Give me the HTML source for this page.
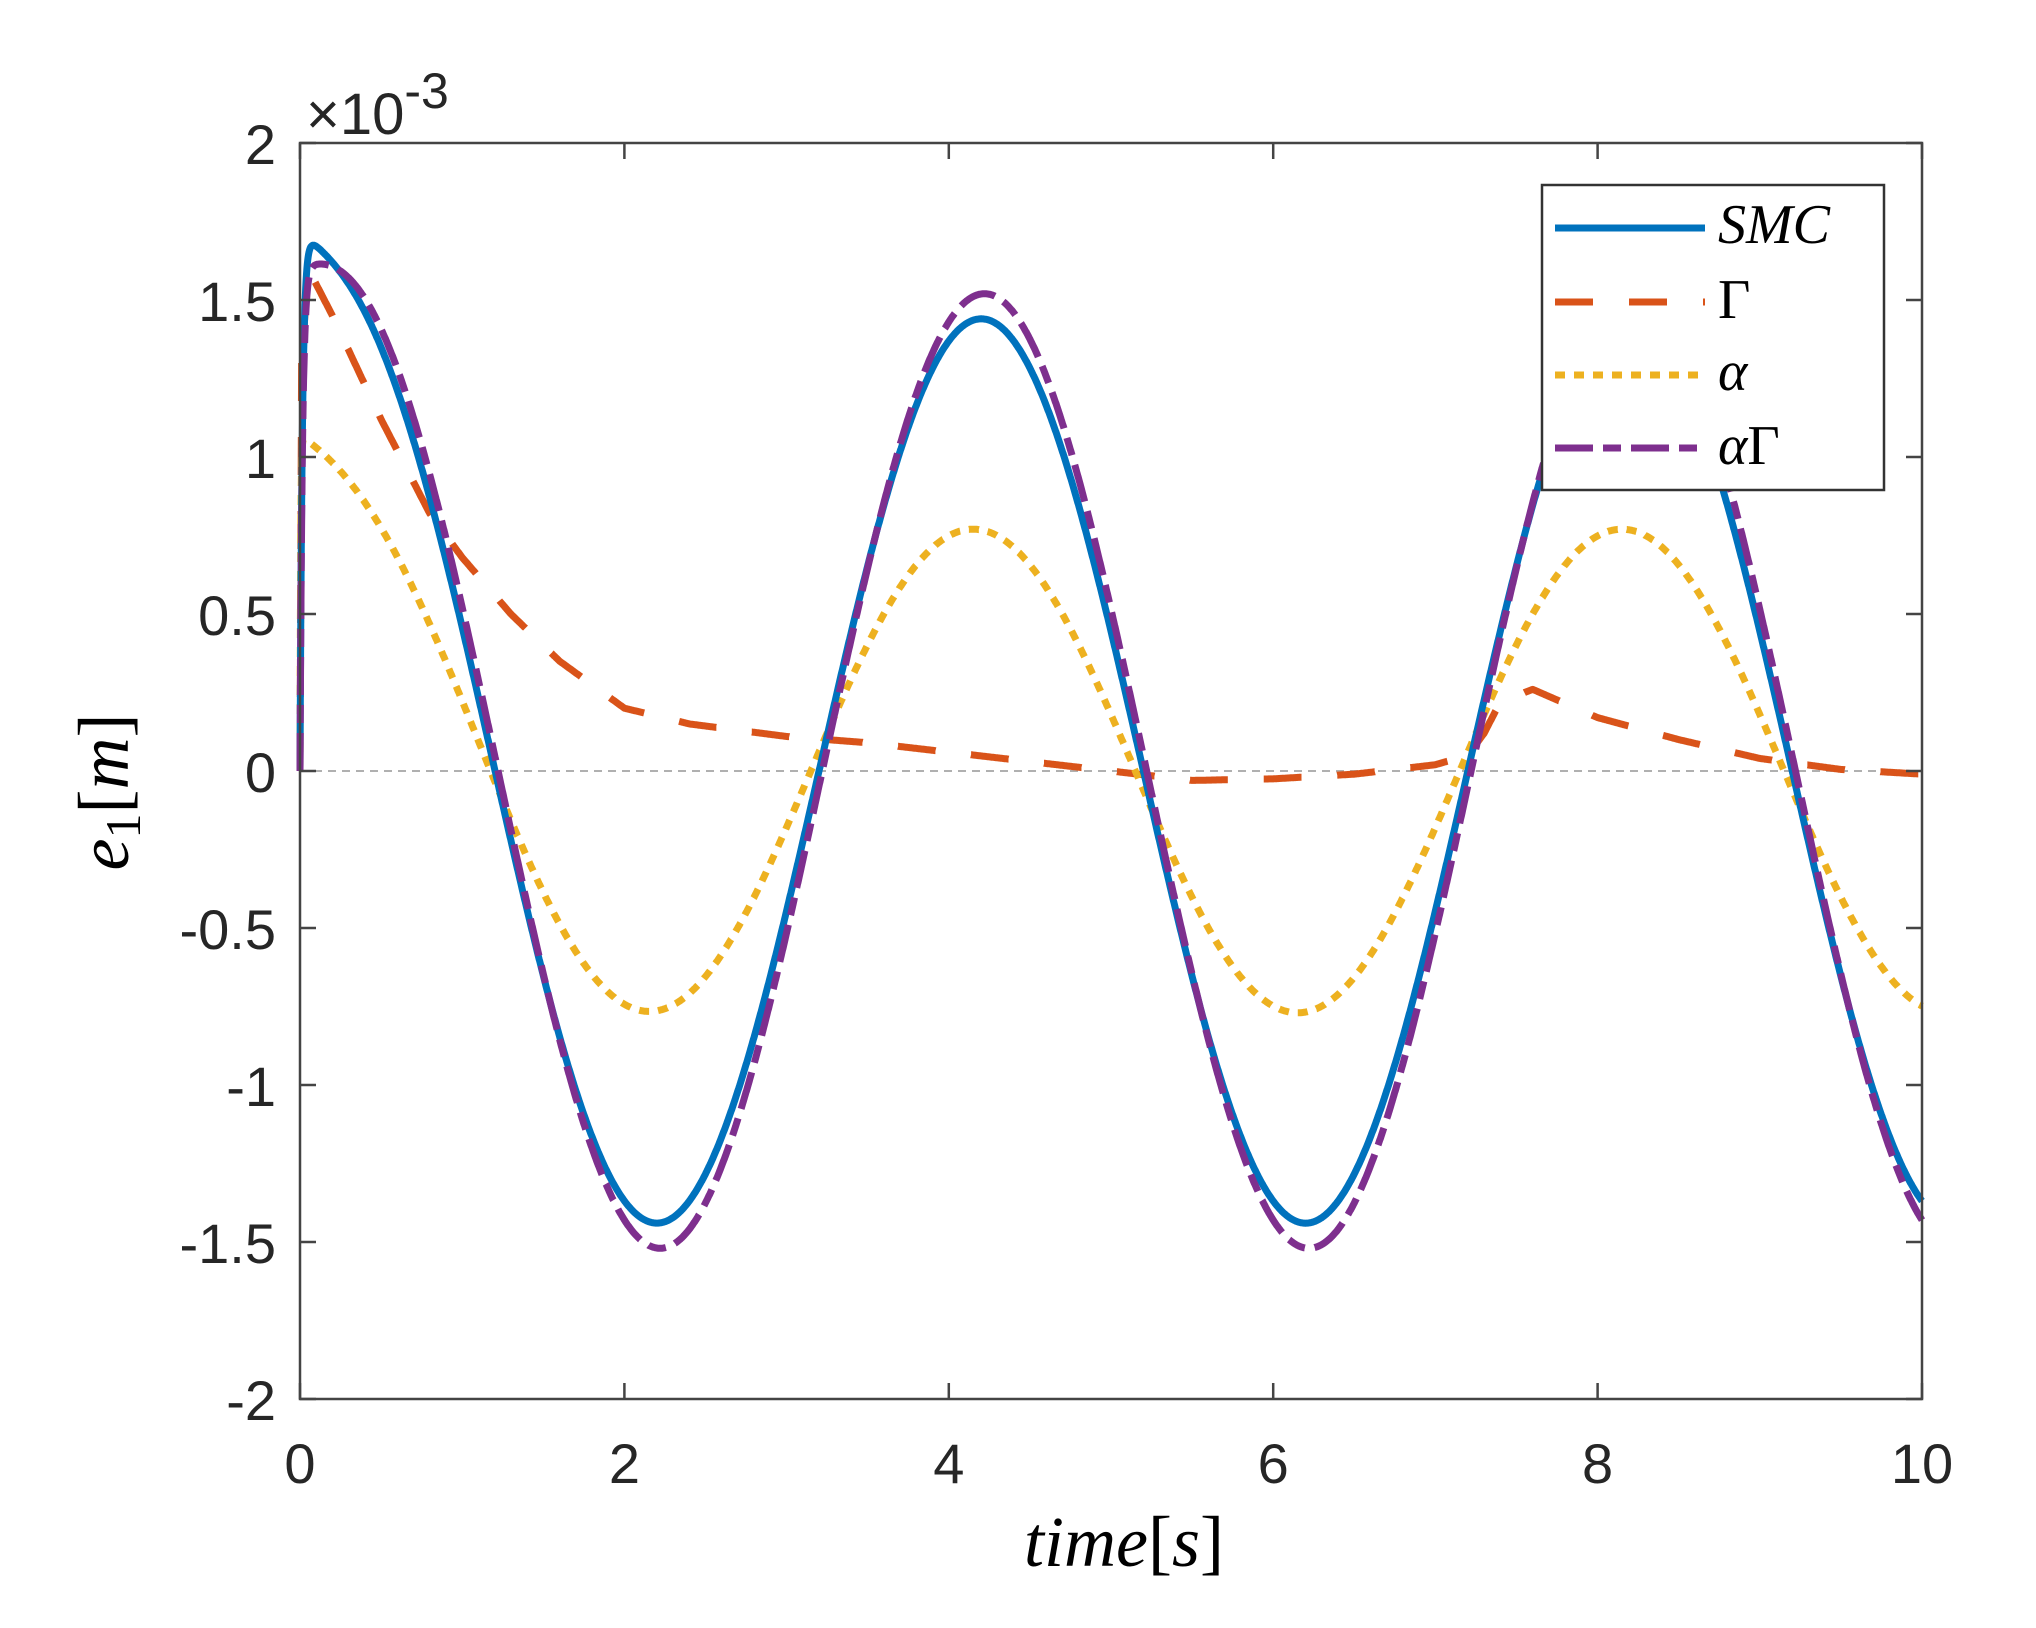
<!DOCTYPE html>
<html><head><meta charset="utf-8"><style>
html,body{margin:0;padding:0;background:#fff;}
svg{display:block;}
</style></head><body>
<svg id="s" width="2036" height="1628" xmlns="http://www.w3.org/2000/svg">
<rect width="2036" height="1628" fill="#fff"/>
<line x1="300" y1="771" x2="1922" y2="771" stroke="#b0b0b0" stroke-width="2" stroke-dasharray="8,6"/>
<g id="series" fill="none" stroke-width="7" stroke-linejoin="round"></g>
<rect x="300" y="143" width="1622" height="1256" fill="none" stroke="#444" stroke-width="2.5"/>
<g id="ticks" stroke="#444" stroke-width="2.5"></g>
<g id="lbl" font-family="Liberation Sans, sans-serif" font-size="56" fill="#262626"></g>
<text x="306" y="134" font-family="Liberation Sans, sans-serif" font-size="58" fill="#262626">×10<tspan dy="-26" font-size="50">-3</tspan></text>
<g font-family="Liberation Serif, serif" fill="#000">
<text x="1124" y="1566" font-size="72" text-anchor="middle"><tspan font-style="italic">time</tspan>[<tspan font-style="italic">s</tspan>]</text>
<text transform="translate(128,792) rotate(-90)" font-size="72" text-anchor="middle"><tspan font-style="italic">e</tspan><tspan font-size="50" dy="12">1</tspan><tspan dy="-12">[</tspan><tspan font-style="italic">m</tspan>]</text>
</g>
<rect x="1542" y="185" width="342" height="305" fill="#fff" stroke="#333" stroke-width="2.5"/>
<g stroke-width="7">
<line x1="1555" y1="228" x2="1705" y2="228" stroke="#0072BD"/>
<line x1="1555" y1="302" x2="1705" y2="302" stroke="#D95319" stroke-dasharray="38,36"/>
<line x1="1555" y1="375" x2="1705" y2="375" stroke="#EDB120" stroke-dasharray="10,9"/>
<line x1="1555" y1="448" x2="1705" y2="448" stroke="#7E2F8E" stroke-dasharray="38,10,18,10"/>
</g>
<g font-family="Liberation Serif, serif" font-size="56" fill="#000">
<text x="1718" y="243" font-style="italic">SMC</text>
<text x="1718" y="318">Γ</text>
<text x="1718" y="390" font-style="italic">α</text>
<text x="1718" y="464"><tspan font-style="italic">α</tspan>Γ</text>
</g>
</svg>
<script>
var L=300,R=1922,T=143,B=1399,Z=771,U=314,XS=(R-L)/10;
function X(t){return L+t*XS;} function Y(v){return Z-v*U;}
var ns="http://www.w3.org/2000/svg";
var tk=document.getElementById('ticks'),lb=document.getElementById('lbl');
function el(p,tag,a,txt){var e=document.createElementNS(ns,tag);for(var k in a)e.setAttribute(k,a[k]);if(txt)e.textContent=txt;p.appendChild(e);}
for(var i=0;i<=10;i+=2){var x=X(i);el(tk,'line',{x1:x,y1:B,x2:x,y2:B-16});el(tk,'line',{x1:x,y1:T,x2:x,y2:T+16});
 el(lb,'text',{x:x,y:1483,'text-anchor':'middle'},String(i));}
for(var v=-2;v<=2.001;v+=0.5){var y=Y(v);el(tk,'line',{x1:L,y1:y,x2:L+16,y2:y});el(tk,'line',{x1:R,y1:y,x2:R-16,y2:y});
 el(lb,'text',{x:276,y:y+21,'text-anchor':'end'},String(Math.round(v*10)/10));}
function ph(t,d){return 2*Math.PI*(t-3.2-(d||0))/4;}
function smc(t){return (1.44*Math.sin(ph(t))+0.35*Math.exp(-t/0.3))*(1-Math.exp(-t/0.015));}
function ag(t){return (1.52*Math.sin(ph(t,0.02))+0.17*Math.exp(-t/0.3))*(1-Math.exp(-t/0.015));}
function al(t){return (0.77*Math.sin(ph(t,-0.05))+0.32*Math.exp(-t/0.5))*(1-Math.exp(-t/0.004));}
var gp=[[0,0],[0.01,1.3],[0.05,1.6],[0.2,1.45],[0.5,1.12],[0.8,0.82],[1,0.68],[1.3,0.5],[1.6,0.35],[2,0.2],[2.4,0.15],[3,0.11],[3.5,0.09],[4,0.06],[4.5,0.03],[5,0.0],[5.5,-0.03],[6,-0.025],[6.5,-0.01],[7,0.02],[7.2,0.05],[7.3,0.12],[7.4,0.22],[7.6,0.26],[8,0.17],[8.5,0.1],[9,0.04],[9.5,0.005],[10,-0.01]];
function gm(t){for(var i=1;i<gp.length;i++){if(t<=gp[i][0]){var a=gp[i-1],b=gp[i];return a[1]+(b[1]-a[1])*(t-a[0])/(b[0]-a[0]);}}return gp[gp.length-1][1];}
function path(f,col,da){var d='';for(var i=0;i<=4000;i++){var t=i/400;d+=(i?'L':'M')+X(t).toFixed(1)+','+Y(f(t)).toFixed(1);}
 var a={d:d,stroke:col};if(da)a['stroke-dasharray']=da;el(document.getElementById('series'),'path',a);}
path(gm,'#D95319','38,36');
path(al,'#EDB120','10,9');
path(smc,'#0072BD');
path(ag,'#7E2F8E','38,10,18,10');
</script>
</body></html>
